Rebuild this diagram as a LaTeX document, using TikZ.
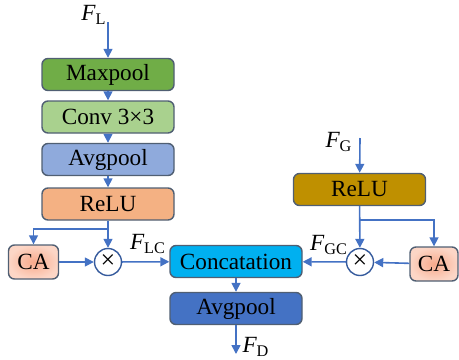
\documentclass[tikz,border=0pt]{standalone}
\usepackage{fontspec}
\setmainfont{Liberation Serif}
\newfontfamily\timesfont{Liberation Serif}
\usetikzlibrary{arrows.meta,positioning}
\definecolor{linkblue}{HTML}{4472C4}
\definecolor{edgegray}{HTML}{505F73}
\newcommand{\feat}[1]{{\timesfont\itshape F}\textsubscript{\timesfont #1}}

\begin{document}
\begin{tikzpicture}[x=0.5pt, y=-0.5pt,
  block/.style = {draw=edgegray, line width=0.7pt, rounded corners=3pt,
    minimum width=66pt, minimum height=16pt, inner sep=0pt,
    font=\timesfont\fontsize{11.6}{13}\selectfont},
  cabox/.style = {block, minimum width=25pt, minimum height=17pt,
    inner color={rgb,255:red,248;green,170;blue,140}, outer color={rgb,255:red,252;green,214;blue,198}},
  mult/.style = {circle, draw=linkblue!80!black, line width=0.7pt, fill=white,
    minimum size=13.5pt, inner sep=0pt, font=\timesfont\fontsize{13}{13}\selectfont},
  link/.style = {draw=linkblue, line width=0.8pt,
    -{Triangle[length=4.5pt,width=4.5pt]}},
  lbl/.style = {font=\timesfont\fontsize{11.6}{13}\selectfont, inner sep=1pt}]
\useasboundingbox (0,0) rectangle (459,359);

\node [block, fill={rgb,255:red,112;green,173;blue,71}] (maxpool) at (108,74.5) {Maxpool};
\node [block, fill={rgb,255:red,169;green,209;blue,142}] (conv) at (108,117) {Conv 3×3};
\node [block, fill={rgb,255:red,143;green,170;blue,220}] (avgl) at (108,159.5) {Avgpool};
\node [block, fill={rgb,255:red,244;green,177;blue,131}] (relul) at (108,204) {ReLU};
\node [cabox] (cal) at (33.5,262) {CA};
\node [mult] (mull) at (108,262) {×};

\node [block, fill={rgb,255:red,0;green,176;blue,240}] (concat) at (236,261.5) {Concatation};
\node [block, fill=linkblue] (avgd) at (236,308.5) {Avgpool};

\node [block, fill={rgb,255:red,191;green,144;blue,0}] (relug) at (359.5,189.5) {ReLU};
\node [cabox, minimum width=24pt] (cag) at (434,264) {CA};
\node [mult] (mulg) at (360,262) {×};

\coordinate (inl) at (108,22);
\coordinate (ing) at (360,138);
\coordinate (outd) at (236,354);
\coordinate (forkl) at (108,229);
\coordinate (forkg) at (360,220);

\node [lbl] (fl) at (94,15) {\feat{L}};
\node [lbl] (fg) at (339,142) {\feat{G}};
\node [lbl] (fd) at (256,347) {\feat{D}};
\node [lbl] (flc) at (148,244) {\feat{LC}};
\node [lbl] (fgc) at (329,245) {\feat{GC}};

\draw [link] (inl) -- (maxpool);
\draw [link] (maxpool) -- (conv);
\draw [link] (conv) -- (avgl);
\draw [link] (avgl) -- (relul);
\draw [link] (relul) -- (mull);
\draw [link] (forkl) -| (cal);
\draw [link] (cal) -- (mull);
\draw [link] (mull) -- (concat);
\draw [link] (concat) -- (avgd);
\draw [link] (avgd) -- (outd);

\draw [link] (ing) -- (relug);
\draw [link] (relug) -- (mulg);
\draw [link] (forkg) -| (cag);
\draw [link] (cag) -- (mulg);
\draw [link] (mulg) -- (concat);
\end{tikzpicture}
\end{document}
